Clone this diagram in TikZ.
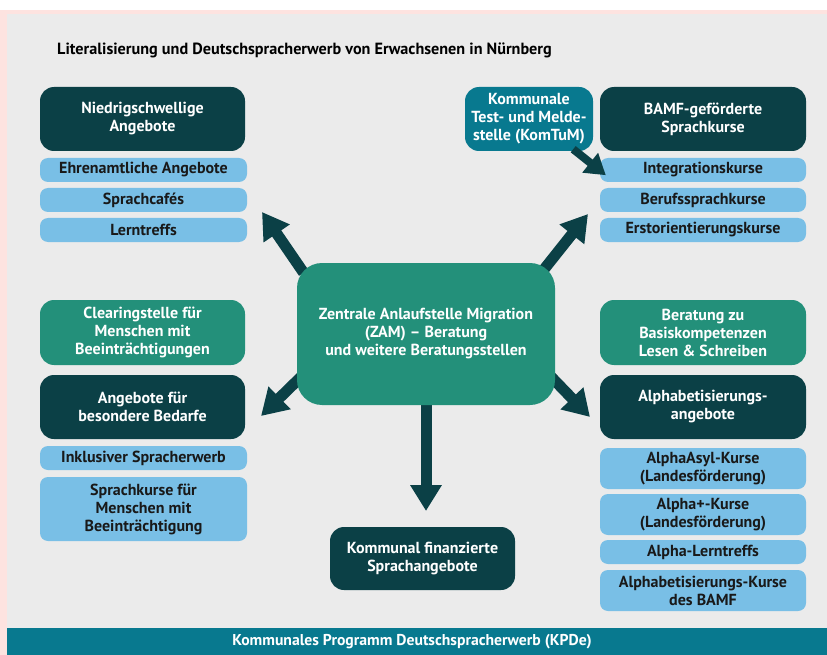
\documentclass[tikz,border=0pt]{standalone}
\usepackage{fontspec}
\setmainfont{PT Sans}
\usetikzlibrary{arrows.meta,positioning}

\definecolor{bggray}{HTML}{EBEBEB}
\definecolor{edgepink}{HTML}{FDE3E0}
\definecolor{zamdark}{HTML}{0B4046}
\definecolor{zamgreen}{HTML}{23907A}
\definecolor{zamteal}{HTML}{08798F}
\definecolor{zamblue}{HTML}{79BFE6}

\pgfdeclarelayer{back}
\pgfdeclarelayer{mid}
\pgfsetlayers{back,mid,main}

\tikzset{
    box/.style={rounded corners=14pt, minimum height=64pt, minimum width=205pt, inner sep=1pt,
        align=center, text=white, font=\bfseries\fontsize{16}{18}\selectfont},
    darkbox/.style={box, fill=zamdark},
    greenbox/.style={box, fill=zamgreen, minimum height=65pt},
    bluebox/.style={box, fill=zamblue, text=black!90, rounded corners=8pt, minimum width=207pt, minimum height=24pt},
    bigarrow/.style={draw=zamdark, line width=11pt, shorten <=-12pt, -{Triangle[length=26pt,width=30pt]}},
}

\begin{document}
\begin{tikzpicture}[x=1pt,y=-1pt]
    \useasboundingbox (0,0) rectangle (827,655);
    \begin{pgfonlayer}{back}
        \fill[white] (0,0) rectangle (827,655);
        \fill[edgepink] (0,10) rectangle (827,655);
        \fill[bggray] (7,14) rectangle (827,628);
        \fill[zamteal] (7,628) rectangle (827,655);
    \end{pgfonlayer}

    \node[anchor=west, inner sep=0pt, font=\bfseries\fontsize{16.2}{18}\selectfont] (title) at (57,50)
        {Literalisierung und Deutschspracherwerb von Erwachsenen in Nürnberg};
    \node[text=white, font=\bfseries\fontsize{15.7}{18}\selectfont] (kpde) at (412,642)
        {Kommunales Programm Deutschspracherwerb (KPDe)};

    % left column
    \node[darkbox] (nied) at (142.5,119) {Niedrigschwellige\\Angebote};
    \node[bluebox] (ehren) at (143.5,170) {Ehrenamtliche Angebote};
    \node[bluebox] (cafe) at (143.5,200) {Sprachcafés};
    \node[bluebox] (lern) at (143.5,230) {Lerntreffs};
    \node[greenbox] (clear) at (142.5,332.5) {Clearingstelle für\\Menschen mit\\Beeinträchtigungen};
    \node[darkbox] (bedarf) at (142.5,407) {Angebote für\\besondere Bedarfe};
    \node[bluebox] (inkl) at (143.5,458) {Inklusiver Spracherwerb};
    \node[bluebox, minimum height=64pt] (sprkurs) at (143.5,509) {Sprachkurse für\\Menschen mit\\Beeinträchtigung};

    % centre
    \node[greenbox, rounded corners=25pt, minimum width=258pt, minimum height=142pt] (zam) at (426,334)
        {Zentrale Anlaufstelle Migration\\(ZAM) -- Beratung\\und weitere Beratungsstellen};
    \node[darkbox, minimum width=185pt, minimum height=63pt] (komfin) at (422.5,558.5)
        {Kommunal finanzierte\\Sprachangebote};

    % right column
    \node[box, fill=zamteal, minimum width=128pt] (komtum) at (529,119)
        {Kommunale\\Test- und Melde-\\stelle (KomTuM)};
    \node[darkbox, minimum width=206pt] (bamf) at (703,119) {BAMF-geförderte\\Sprachkurse};
    \node[bluebox, minimum width=206pt] (integ) at (703,170) {Integrationskurse};
    \node[bluebox, minimum width=206pt] (beruf) at (703,200) {Berufssprachkurse};
    \node[bluebox, minimum width=206pt] (erst) at (703,230) {Erstorientierungskurse};
    \node[greenbox, minimum width=206pt] (basis) at (703,332.5) {Beratung zu\\Basiskompetenzen\\Lesen \& Schreiben};
    \node[darkbox, minimum width=206pt] (alpha) at (703,407) {Alphabetisierungs-\\angebote};
    \node[bluebox, minimum width=206pt, minimum height=41pt] (asyl) at (703,468.5) {AlphaAsyl-Kurse\\(Landesförderung)};
    \node[bluebox, minimum width=206pt, minimum height=41pt] (aplus) at (703,514.5) {Alpha+-Kurse\\(Landesförderung)};
    \node[bluebox, minimum width=206pt] (alern) at (703,552) {Alpha-Lerntreffs};
    \node[bluebox, minimum width=206pt, minimum height=41pt] (abamf) at (703,590.5) {Alphabetisierungs-Kurse\\des BAMF};

    % arrows out of the ZAM
    \coordinate (tipNW) at (262,212);
    \coordinate (tipNE) at (588,214);
    \coordinate (tipSW) at (261,416);
    \coordinate (tipSE) at (590,417);
    \coordinate (tipS) at (426,511);
    \begin{pgfonlayer}{mid}
        \draw[bigarrow] (zam.north west) -- (tipNW);
        \draw[bigarrow] ([xshift=-6pt]zam.north east) -- (tipNE);
        \draw[bigarrow] (zam.200) -- (tipSW);
        \draw[bigarrow] (zam.340) -- (tipSE);
        \draw[bigarrow] (zam.south) -- (tipS);
    \end{pgfonlayer}
    \draw[draw=zamdark, line width=8pt, -{Triangle[length=20pt,width=24pt]}]
        ([xshift=-20pt,yshift=2pt]komtum.south east) -- ([xshift=6pt,yshift=7pt]integ.south west);
\end{tikzpicture}
\end{document}
